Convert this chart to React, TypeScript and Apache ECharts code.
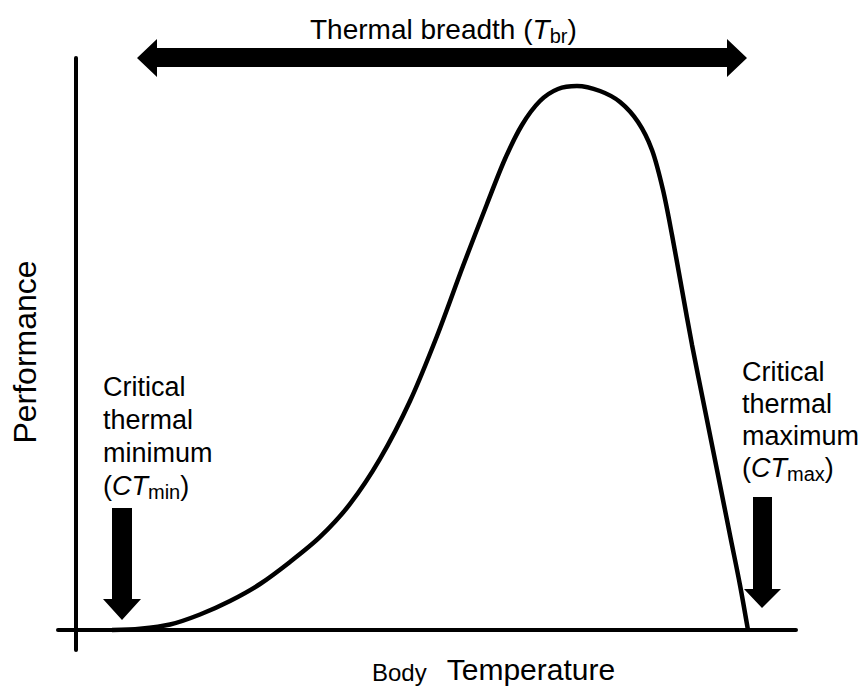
import React, { useEffect, useRef } from "react";
import * as echarts from "echarts";

// Thermal performance curve (arbitrary units)
const temperature = [
  5.0, 8.89, 13.06, 17.22, 21.39, 25.56, 29.72, 33.89, 38.06, 42.22, 46.39,
  50.14, 53.75, 57.08, 59.58, 61.94, 64.44, 66.94, 69.58, 72.78, 75.56, 78.06,
  80.0, 81.53, 82.78, 84.17, 85.56, 87.36, 89.17, 90.97, 92.22, 93.33,
];
const performance = [
  0, 0.23, 0.96, 2.71, 5.07, 8.04, 11.89, 16.26, 22.03, 29.9, 40.03, 51.4,
  63.64, 74.48, 82.34, 88.29, 92.48, 94.58, 95.1, 94.23, 92.31, 88.81, 83.92,
  76.92, 69.06, 59.44, 49.83, 38.46, 27.1, 15.73, 7.87, 0,
];

const titleText = "Thermal breadth ({it|T}{sub|br})";
const xName = "{a|Body}{b|Temperature}";
const yName = "Performance";
const minLabel = "Critical\nthermal\nminimum\n({it|CT}{sub|min})";
const maxLabel = "Critical\nthermal\nmaximum\n({it|CT}{sub|max})";

const FONT = "'Liberation Sans', Arial, Helvetica, sans-serif";

const richFor = (size: number) => ({
  it: { fontFamily: FONT, fontSize: size, fontStyle: "italic", fill: "#000" },
  sub: { fontFamily: FONT, fontSize: 20, fill: "#000", verticalAlign: "bottom" },
});

export default function App() {
  const ref = useRef<HTMLDivElement>(null);
  useEffect(() => {
    if (!ref.current) return;
    const chart = echarts.init(ref.current, undefined, { renderer: "svg" });
    const data = temperature.map((t, i) => [t, performance[i]]);
    chart.setOption({
      animation: false,
      backgroundColor: "#fff",
      grid: { left: 58, right: 68, top: 58, bottom: 36, containLabel: false },
      xAxis: {
        type: "value",
        min: -2.5,
        max: 100,
        axisLine: { show: true, onZero: true, lineStyle: { color: "#000", width: 4 } },
        axisTick: { show: false },
        axisLabel: { show: false },
        splitLine: { show: false },
      },
      yAxis: {
        type: "value",
        min: -3.5,
        max: 100,
        axisLine: { show: true, onZero: true, lineStyle: { color: "#000", width: 4 } },
        axisTick: { show: false },
        axisLabel: { show: false },
        splitLine: { show: false },
      },
      series: [
        {
          type: "line",
          data,
          smooth: 0.3,
          showSymbol: false,
          lineStyle: { color: "#000", width: 4.5 },
        },
      ],
      graphic: [
        {
          type: "polygon",
          shape: {
            points: [
              [137, 58], [157, 39], [157, 48], [727, 48], [727, 39], [747, 58],
              [727, 77], [727, 67], [157, 67], [157, 77],
            ],
          },
          style: { fill: "#000" },
        },
        {
          type: "polygon",
          shape: {
            points: [[112, 508], [132, 508], [132, 599], [141, 599], [122, 620], [103, 599], [112, 599]],
          },
          style: { fill: "#000" },
        },
        {
          type: "polygon",
          shape: {
            points: [[753, 497], [772, 497], [772, 589], [781, 589], [762, 608], [744, 589], [753, 589]],
          },
          style: { fill: "#000" },
        },
        {
          type: "text",
          x: 310,
          y: 12,
          style: {
            text: titleText,
            fontFamily: FONT,
            fontSize: 28,
            fill: "#000",
            align: "left",
            verticalAlign: "top",
            lineHeight: 34,
            rich: richFor(28),
          },
        },
        {
          type: "text",
          x: 103,
          y: 370,
          style: {
            text: minLabel,
            fontFamily: FONT,
            fontSize: 27,
            fill: "#000",
            align: "left",
            verticalAlign: "top",
            lineHeight: 33,
            rich: richFor(27),
          },
        },
        {
          type: "text",
          x: 742,
          y: 356,
          style: {
            text: maxLabel,
            fontFamily: FONT,
            fontSize: 27,
            fill: "#000",
            align: "left",
            verticalAlign: "top",
            lineHeight: 32,
            rich: richFor(27),
          },
        },
        {
          type: "text",
          x: 372,
          y: 669,
          style: {
            text: xName,
            fontFamily: FONT,
            fontSize: 30,
            fill: "#000",
            align: "left",
            verticalAlign: "middle",
            rich: {
              a: {
                fontFamily: FONT,
                fontSize: 24,
                fill: "#000",
                padding: [0, 20, 0, 0],
                verticalAlign: "bottom",
              },
              b: { fontFamily: FONT, fontSize: 30, fill: "#000" },
            },
          },
        },
        {
          type: "text",
          x: 24.5,
          y: 352,
          rotation: Math.PI / 2,
          style: {
            text: yName,
            fontFamily: FONT,
            fontSize: 32,
            fill: "#000",
            align: "center",
            verticalAlign: "middle",
          },
        },
      ],
    });
    return () => chart.dispose();
  }, []);
  return (
    <div
      ref={ref}
      style={{ position: "absolute", left: 0, top: 0, width: 864, height: 686 }}
    />
  );
}
